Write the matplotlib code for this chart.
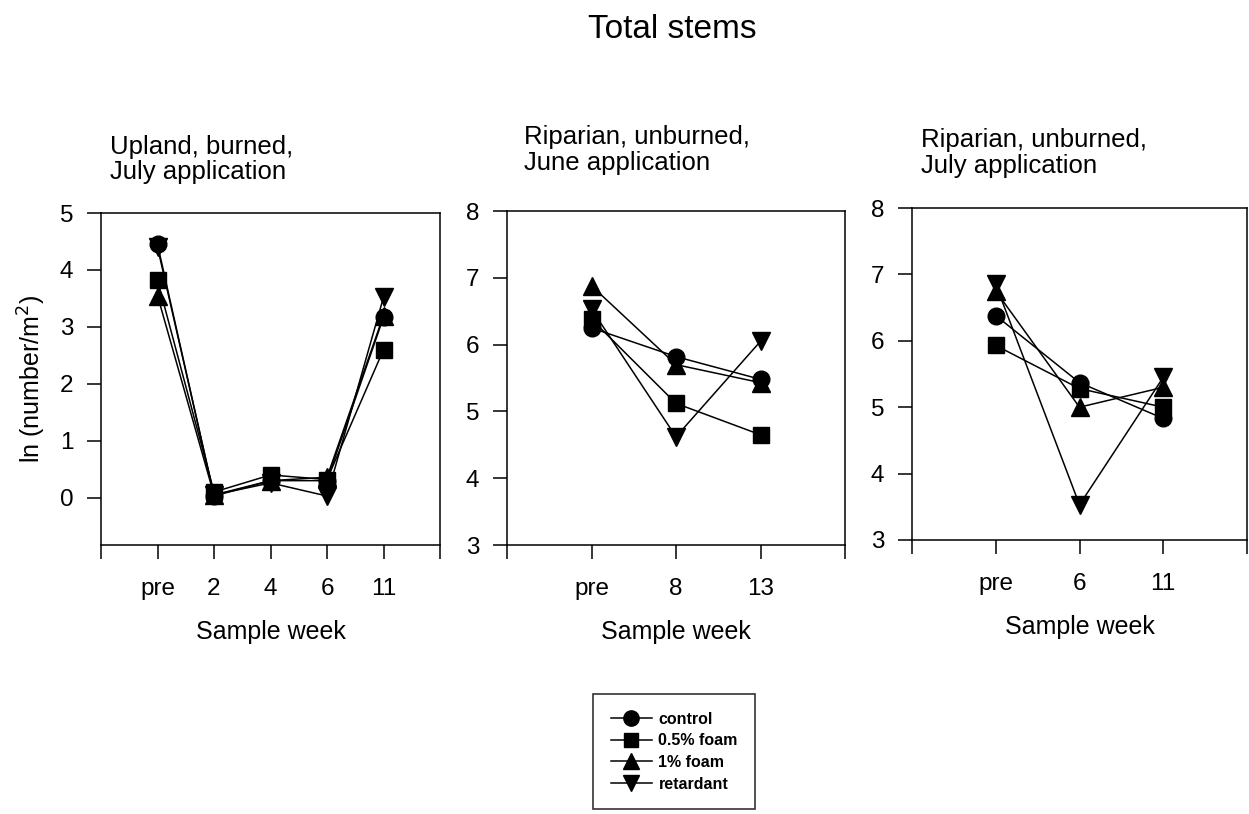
import matplotlib
matplotlib.use("Agg")
import matplotlib.pyplot as plt
from matplotlib.lines import Line2D

plt.rcParams['font.family'] = ['Liberation Sans', 'DejaVu Sans']

series_names = ["control", "0.5% foam", "1% foam", "retardant"]
series_markers = ["o", "s", "^", "v"]

# Panel 1: Upland, burned, July application
p1_weeks = ["pre", "2", "4", "6", "11"]
p1_control = [4.45, 0.03, 0.30, 0.30, 3.17]
p1_foam05 = [3.82, 0.10, 0.40, 0.32, 2.60]
p1_foam1 = [3.55, 0.05, 0.30, 0.36, 3.20]
p1_retardant = [4.40, 0.05, 0.26, 0.03, 3.52]

# Panel 2: Riparian, unburned, June application
p2_weeks = ["pre", "8", "13"]
p2_control = [6.25, 5.82, 5.48]
p2_foam05 = [6.38, 5.12, 4.65]
p2_foam1 = [6.88, 5.70, 5.43]
p2_retardant = [6.53, 4.62, 6.05]

# Panel 3: Riparian, unburned, July application
p3_weeks = ["pre", "6", "11"]
p3_control = [6.38, 5.37, 4.83]
p3_foam05 = [5.93, 5.28, 5.00]
p3_foam1 = [6.75, 5.00, 5.30]
p3_retardant = [6.85, 3.53, 5.45]

W, H = 1249.0, 814.0

def rect(l, r, t, b):
    return [l / W, 1 - b / H, (r - l) / W, (b - t) / H]

panels = [
    dict(title=["Upland, burned,", "July application"], tx=110, ty=[154, 179],
         weeks=p1_weeks, data=[p1_control, p1_foam05, p1_foam1, p1_retardant],
         ylim=(-0.83, 5.0), yticks=[0, 1, 2, 3, 4, 5],
         rect=rect(101, 440, 213, 545)),
    dict(title=["Riparian, unburned,", "June application"], tx=524, ty=[144, 170],
         weeks=p2_weeks, data=[p2_control, p2_foam05, p2_foam1, p2_retardant],
         ylim=(3, 8), yticks=[3, 4, 5, 6, 7, 8],
         rect=rect(507, 845, 211, 545)),
    dict(title=["Riparian, unburned,", "July application"], tx=921, ty=[147, 173],
         weeks=p3_weeks, data=[p3_control, p3_foam05, p3_foam1, p3_retardant],
         ylim=(3, 8), yticks=[3, 4, 5, 6, 7, 8],
         rect=rect(912, 1247, 208, 540)),
]

fig = plt.figure(figsize=(W / 100, H / 100), dpi=100)
fig.text(672 / W, 1 - 38 / H, "Total stems", ha="center", va="baseline", fontsize=24)

for i, p in enumerate(panels):
    ax = fig.add_axes(p["rect"])
    n = len(p["weeks"])
    xs = list(range(n))
    for k in reversed(range(4)):
        m = series_markers[k]
        ms = {"o": 12, "s": 11, "^": 13, "v": 13}[m]
        ax.plot(xs, p["data"][k], color="black", lw=1.1,
                marker=m, markersize=ms,
                markerfacecolor="black", markeredgecolor="black", zorder=3 + (3 - k))
    ax.set_xlim(-1, n)
    ax.set_xticks(list(range(-1, n + 1)))
    ax.set_xticklabels([""] + p["weeks"] + [""])
    ax.set_ylim(*p["ylim"])
    ax.set_yticks(p["yticks"])
    ax.tick_params(direction="out", length=10, width=1.1, labelsize=17.5, pad=10)
    ax.tick_params(axis="x", pad=14)
    for s in ax.spines.values():
        s.set_linewidth(1.1)
    ax.set_xlabel("Sample week", fontsize=18, labelpad=14)
    for j, line in enumerate(p["title"]):
        fig.text(p["tx"] / W, 1 - p["ty"][j] / H, line, ha="left", va="baseline",
                 fontsize=18.5)
    if i == 0:
        ax.set_ylabel("ln (number/m$^2$)", fontsize=18, labelpad=8)

handles = [Line2D([0], [0], color="black", lw=1.1, marker=m,
                  markersize={"o": 11, "s": 10, "^": 12, "v": 12}[m],
                  markerfacecolor="black") for m in series_markers]
leg = fig.legend(handles, series_names, loc="upper left", bbox_to_anchor=(593 / W, 1 - 694 / H),
                 borderaxespad=0, frameon=True, fancybox=False, edgecolor="black",
                 fontsize=11.5, handlelength=2.6, labelspacing=0.42, borderpad=1.1,
                 handletextpad=0.4)
leg.get_frame().set_linewidth(1.2)
for t in leg.get_texts():
    t.set_fontweight("bold")

fig.savefig("out.png", dpi=100)
